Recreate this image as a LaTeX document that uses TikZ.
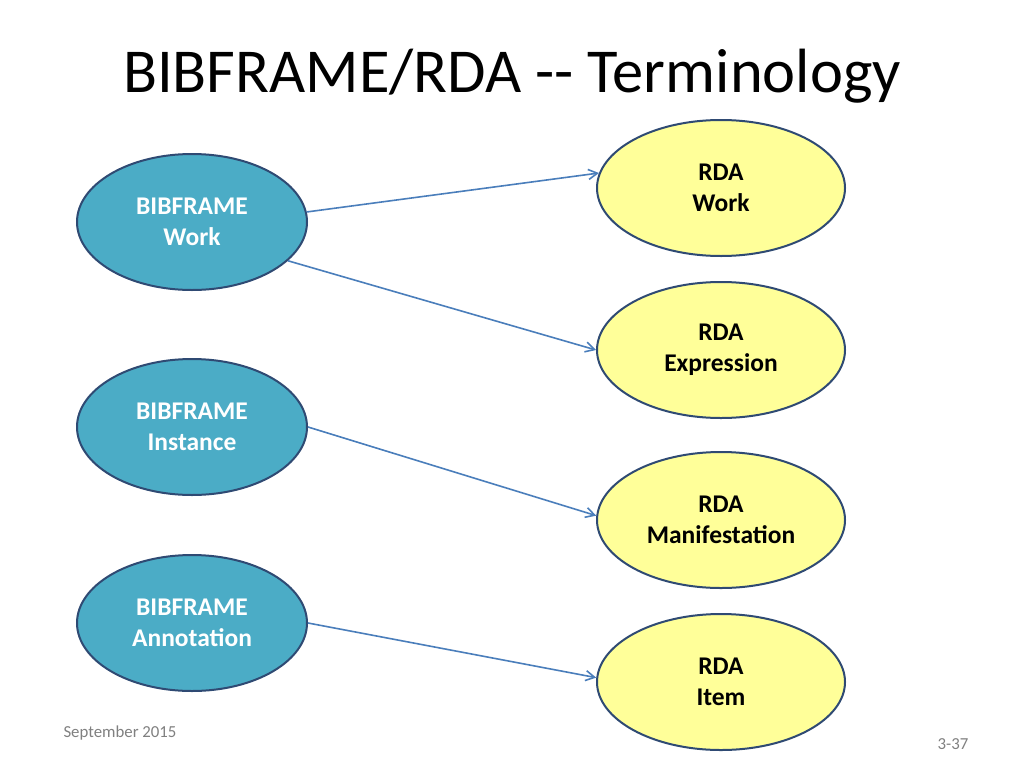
\documentclass[tikz,border=0pt]{standalone}
\usepackage{fontspec}
\setmainfont{Carlito}
\usetikzlibrary{shapes.geometric,arrows.meta}
\definecolor{bfill}{HTML}{4BACC6}
\definecolor{edge}{HTML}{2F4A73}
\definecolor{yfill}{HTML}{FFFF99}
\definecolor{arr}{HTML}{4A7EBB}
\begin{document}
\begin{tikzpicture}[x=1pt,y=-1pt,
  bf/.style={ellipse,draw=edge,line width=2pt,fill=bfill,minimum width=230pt,minimum height=136pt,inner sep=0,align=center,text=white,font=\fontsize{25.5}{31}\selectfont\bfseries},
  rd/.style={ellipse,draw=edge,line width=2pt,fill=yfill,minimum width=248pt,minimum height=136pt,inner sep=0,align=center,text=black,font=\fontsize{25.5}{31}\selectfont\bfseries},
  con/.style={draw=arr,line width=1.6pt,-{Straight Barb[length=9pt,width=10pt]}}]
\useasboundingbox[fill=white] (0,0) rectangle (1024,768);
\node (title) at (512,76) {\fontsize{62.5}{70}\selectfont BIBFRAME/RDA {-}{-} Terminology};
\node[bf] (bw) at (192,222) {BIBFRAME\\Work};
\node[bf] (bi) at (192,427) {BIBFRAME\\Instance};
\node[bf] (ba) at (192,623) {BIBFRAME\\Annotation};
\node[rd] (rw) at (721,188) {RDA\\Work};
\node[rd] (re) at (721,350) {RDA\\Expression};
\node[rd] (rm) at (721,520) {RDA\\Manifestation};
\node[rd] (ri) at (721,682) {RDA\\Item};
\draw[con] (bw.5) -- (rw.173);
\draw[con] (bw.-22) -- (re.180);
\draw[con] (bi.0) -- (rm.178);
\draw[con] (ba.0) -- (ri.178);
\node[text=gray,font=\fontsize{16.8}{18}\selectfont,anchor=west] (date) at (60,733) {September 2015};
\node[text=gray,font=\fontsize{16.8}{18}\selectfont] (pg) at (953,744) {3-37};
\end{tikzpicture}
\end{document}
